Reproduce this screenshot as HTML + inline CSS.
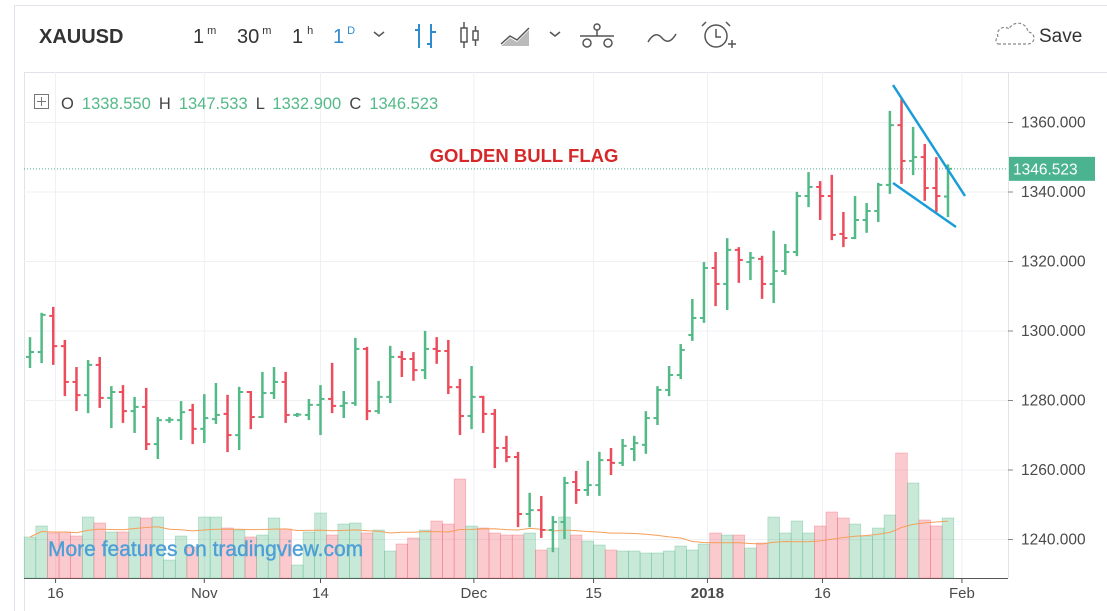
<!DOCTYPE html>
<html><head><meta charset="utf-8">
<style>
html,body{margin:0;padding:0;background:#fff;width:1107px;height:611px;overflow:hidden;font-family:"Liberation Sans",sans-serif}
svg{display:block}
</style></head>
<body>
<svg id="chart" width="1107" height="611" viewBox="0 0 1107 611" xmlns="http://www.w3.org/2000/svg">
 <rect x="14.5" y="5.5" width="1100" height="610" fill="#fff" stroke="#e0e3eb"/>
 <g font-family="Liberation Sans, sans-serif">
  <text x="39" y="43" font-size="20" font-weight="bold" fill="#333">XAUUSD</text>
  <g font-size="20" fill="#333">
   <text x="193" y="43">1<tspan font-size="11" dy="-9" dx="3">m</tspan></text>
   <text x="237" y="43">30<tspan font-size="11" dy="-9" dx="3">m</tspan></text>
   <text x="292" y="43">1<tspan font-size="11" dy="-9" dx="4">h</tspan></text>
   <text x="333" y="43" fill="#2e8bd0">1<tspan font-size="11" dy="-9" dx="3">D</tspan></text>
  </g>
  <path d="M374 32 l5 4 l5 -4" fill="none" stroke="#555" stroke-width="1.5"/>
  <g stroke="#2e8bd0" stroke-width="2" fill="none">
   <path d="M419 24 v24 M415 30 h4 M431 24 v24 M431 32 h5 M427 44 h4"/>
  </g>
  <g stroke="#555" stroke-width="1.5" fill="none">
   <rect x="461" y="28" width="6" height="14"/><path d="M464 22 v6 M464 42 v6"/>
   <rect x="473" y="31" width="5" height="9"/><path d="M475.5 26 v5 M475.5 40 v6"/>
  </g>
  <g>
   <path d="M501 46 L510 38 L517 42 L529 30 L529 46 Z" fill="#bbb"/>
   <path d="M501 44 L510 36 L517 40 L529 28" stroke="#555" stroke-width="1.5" fill="none"/>
   <path d="M550 32 l5 4 l5 -4" fill="none" stroke="#555" stroke-width="1.5"/>
  </g>
  <g stroke="#555" stroke-width="1.5" fill="none">
   <circle cx="597" cy="27" r="3"/><circle cx="587" cy="43" r="4"/><circle cx="608" cy="43" r="4"/>
   <path d="M580 36 h34 M597 30 v6"/>
  </g>
  <path d="M648 42 q7 -12 14 -4 q7 8 14 -4" fill="none" stroke="#555" stroke-width="1.5"/>
  <g stroke="#555" stroke-width="1.5" fill="none">
   <circle cx="716" cy="36" r="11"/><path d="M716 29 v8 h5 M706 22 l-4 4 M726 22 l4 4 M728 44 h8 M732 40 v8"/>
  </g>
  <path d="M998 44 h30 a6 6 0 0 0 0 -12 a10 10 0 0 0 -19 -3 a7 7 0 0 0 -11 8 a4 4 0 0 0 0 7" fill="none" stroke="#888" stroke-width="1.2" stroke-dasharray="3 2"/>
  <text x="1039" y="42" font-size="19" fill="#333">Save</text>
 </g>
 <rect x="24.5" y="72.5" width="1090" height="540" fill="none" stroke="#e0e3eb"/>
 <line x1="1008.5" y1="72" x2="1008.5" y2="578" stroke="#e0e3eb"/>
 <line x1="24" y1="578.5" x2="1008" y2="578.5" stroke="#555"/>
 <g id="grid"></g>
 <g id="vol"></g>
 <path id="ma" fill="none" stroke="#f5a05a" stroke-width="1"/>
 <g id="bars"></g>
 <g id="axes" font-family="Liberation Sans, sans-serif"></g>
 <g font-size="16.5" font-family="Liberation Sans, sans-serif">
  <rect x="34.5" y="94.5" width="14" height="14" fill="none" stroke="#777"/>
  <path d="M41.5 97 v9 M37 101.5 h9" stroke="#777"/>
  <text x="61" y="109" fill="#444" word-spacing="3.5">O <tspan fill="#53b987">1338.550</tspan> H <tspan fill="#53b987">1347.533</tspan> L <tspan fill="#53b987">1332.900</tspan> C <tspan fill="#53b987">1346.523</tspan></text>
 </g>
 <text x="524" y="162" text-anchor="middle" font-size="18.5" font-weight="bold" fill="#d62828">GOLDEN BULL FLAG</text>
 <g stroke="#1a9cd8" stroke-width="2.5">
  <line x1="893" y1="85" x2="965" y2="196"/>
  <line x1="893" y1="183" x2="956" y2="227"/>
 </g>
 <text x="48" y="556" font-size="21" fill="#4e9fd6" stroke="#4e9fd6" stroke-width="0.4">More features on tradingview.com</text>
</svg>
<script>
const opens=[1292.4,1293.8,1304.2,1295.5,1285.2,1281.4,1290.1,1280.6,1282.3,1276.8,1278.0,1267.3,1274.2,1274.2,1277.1,1271.7,1274.5,1276.0,1269.9,1282.3,1275.1,1282.0,1285.2,1275.7,1275.7,1278.6,1280.3,1278.3,1279.1,1294.7,1276.8,1280.9,1292.4,1291.8,1288.6,1294.7,1294.1,1283.7,1275.4,1280.9,1276.0,1266.2,1263.6,1247.2,1248.3,1242.6,1244.9,1256.4,1254.1,1255.5,1262.7,1261.9,1265.9,1267.1,1274.8,1282.9,1287.2,1298.7,1303.6,1318.0,1313.4,1323.2,1319.7,1320.6,1313.4,1317.1,1322.6,1338.7,1341.3,1338.7,1327.8,1326.6,1331.8,1334.4,1341.9,1359.1,1348.8,1349.9,1341.0,1338.55];
const highs=[1297.8,1304.8,1306.5,1297.0,1289.2,1291.2,1292.1,1283.7,1284.0,1280.6,1283.2,1274.8,1274.8,1279.4,1278.6,1281.4,1284.6,1281.2,1283.5,1282.3,1287.8,1289.2,1287.8,1276.0,1280.0,1284.0,1290.4,1282.3,1297.6,1295.0,1285.2,1295.3,1293.8,1293.5,1299.6,1297.8,1297.0,1285.8,1289.5,1280.9,1277.1,1269.4,1264.8,1253.0,1252.1,1246.3,1257.6,1259.3,1262.2,1264.8,1265.9,1268.5,1269.4,1276.5,1283.7,1289.5,1295.8,1308.8,1319.4,1322.3,1326.3,1323.7,1322.3,1321.2,1328.4,1324.6,1339.6,1345.3,1342.7,1344.5,1333.8,1338.4,1336.4,1342.2,1362.9,1366.3,1358.3,1353.4,1349.6,1347.533];
const lows=[1289.5,1290.9,1290.4,1281.4,1277.1,1276.5,1278.0,1272.2,1273.7,1270.8,1265.9,1263.3,1273.7,1268.8,1267.6,1267.9,1273.4,1265.3,1265.9,1271.9,1275.1,1280.6,1273.7,1275.4,1274.5,1270.2,1276.5,1275.1,1278.6,1274.5,1276.3,1279.4,1286.9,1285.8,1286.3,1290.7,1282.0,1270.2,1271.9,1270.8,1260.7,1262.4,1243.7,1243.7,1240.6,1236.5,1240.3,1250.4,1252.7,1252.7,1258.7,1261.3,1262.7,1264.8,1273.1,1281.4,1286.3,1297.3,1302.5,1307.3,1306.2,1314.0,1314.8,1309.4,1308.2,1316.3,1321.7,1335.8,1332.1,1326.3,1324.3,1326.6,1328.4,1331.5,1339.6,1342.5,1345.0,1337.6,1334.4,1332.9];
const closes=[1293.8,1304.5,1295.5,1285.2,1281.4,1290.1,1280.6,1282.3,1276.8,1278.0,1267.3,1274.2,1274.3,1276.5,1271.7,1274.8,1275.7,1269.9,1282.3,1275.1,1282.0,1285.2,1275.7,1275.8,1278.6,1280.3,1278.3,1279.1,1294.7,1276.8,1280.9,1292.4,1291.8,1288.6,1294.7,1294.1,1283.7,1275.4,1280.9,1276.0,1266.2,1263.6,1247.2,1248.3,1242.6,1244.9,1256.1,1254.1,1255.5,1262.7,1261.9,1266.8,1267.6,1274.8,1282.9,1287.2,1294.4,1303.6,1318.0,1313.4,1323.2,1320.3,1320.9,1313.4,1317.1,1322.6,1338.7,1341.3,1338.7,1327.5,1326.6,1331.8,1334.4,1341.9,1359.1,1348.8,1349.9,1341.0,1338.7,1346.523];
const volumes=[41,52,45,46,42,61,55,46,46,61,60,61,18,42,31,61,61,50,48,41,43,60,49,13,46,65,43,54,55,45,48,27,34,40,48,57,54,99,52,50,45,43,43,45,28,30,61,43,37,33,28,27,27,25,25,27,32,28,34,45,43,43,30,35,61,45,57,45,52,66,60,54,42,50,63,125,95,58,52,60];
const priceTicks=[1240,1260,1280,1300,1320,1340,1360];
const timeLabels=["16","Nov","14","Dec","15","2018","16","Feb"];
const timeLabelIdx=[2.2,15,25,38.2,48.5,58.3,68.2,80.2];
const lastPrice=1346.523;

const NS="http://www.w3.org/2000/svg";
const X0=30, STEP=11.62;
function xS(i){return X0+i*STEP;}
function yS(p){return 539-(p-1240)*3.475;}
function vS(v){return 578-v;}
function mk(tag,attrs,parent){const e=document.createElementNS(NS,tag);for(const k in attrs)e.setAttribute(k,attrs[k]);parent.appendChild(e);return e;}

const grid=document.getElementById('grid'),axes=document.getElementById('axes'),bars=document.getElementById('bars'),vol=document.getElementById('vol');
priceTicks.forEach(p=>{
  const l=mk('line',{x1:24,x2:1008,y1:yS(p)+0.5,y2:yS(p)+0.5,stroke:'#eef0f4'},grid);
  
  
  const t=mk('text',{x:1021,y:yS(p)+5.5,'font-size':15.5,fill:'#4a4a4a'},axes);
  t.textContent=p.toFixed(3);
  
  
  mk('line',{x1:1008,x2:1013,y1:yS(p)+0.5,y2:yS(p)+0.5,stroke:'#888'},axes);
});
timeLabels.forEach((s,k)=>{
  const x=xS(timeLabelIdx[k]);
  const l=mk('line',{x1:x,x2:x,y1:72,y2:578,stroke:'#eef0f4'},grid);
  
  
  mk('line',{x1:x,x2:x,y1:578,y2:583,stroke:'#555'},axes);
  const t=mk('text',{x:x,y:598,'font-size':15,fill:'#4a4a4a','text-anchor':'middle','font-weight':s==='2018'?'bold':'normal'},axes);
  t.textContent=s;
  
  
});
const ly=yS(lastPrice);
const dl=mk('line',{x1:24,x2:1008,y1:ly,y2:ly,stroke:'#4bb38f','stroke-width':1,'stroke-dasharray':'1 2'},grid);


const lr=mk('rect',{x:1009,y:ly-12,width:86,height:24,fill:'#4bb38f'},axes);


const lt=mk('text',{x:1013,y:ly+5.5,'font-size':15.5,fill:'#fff'},axes);
lt.textContent=lastPrice.toFixed(3);



opens.forEach((o,i)=>{
  const c=closes[i],up=c>=o,col=up?'#53b987':'#eb4d5c',x=xS(i);
  const r=mk('rect',{x:x-STEP/2,y:vS(volumes[i]),width:STEP,height:volumes[i],fill:up?'rgba(83,185,135,0.32)':'rgba(240,90,105,0.32)',stroke:up?'rgba(83,185,135,0.5)':'rgba(240,90,105,0.5)','stroke-width':0.6},vol);
  
  
  const g=mk('g',{stroke:col,'stroke-width':2.5},bars);
  
  
  mk('line',{x1:x,x2:x,y1:yS(highs[i])-1,y2:yS(lows[i])+1},g);
  mk('line',{x1:x-4,x2:x,y1:yS(o),y2:yS(o),'stroke-width':2},g);
  mk('line',{x1:x,x2:x+4,y1:yS(c),y2:yS(c),'stroke-width':2},g);
});
let d='';
volumes.forEach((v,i)=>{const s=volumes.slice(Math.max(0,i-19),i+1);const m=s.reduce((a,b)=>a+b,0)/s.length;d+=(i?'L':'M')+xS(i).toFixed(1)+' '+vS(m).toFixed(1);});
document.getElementById('ma').setAttribute('d',d);
</script>
</body></html>
